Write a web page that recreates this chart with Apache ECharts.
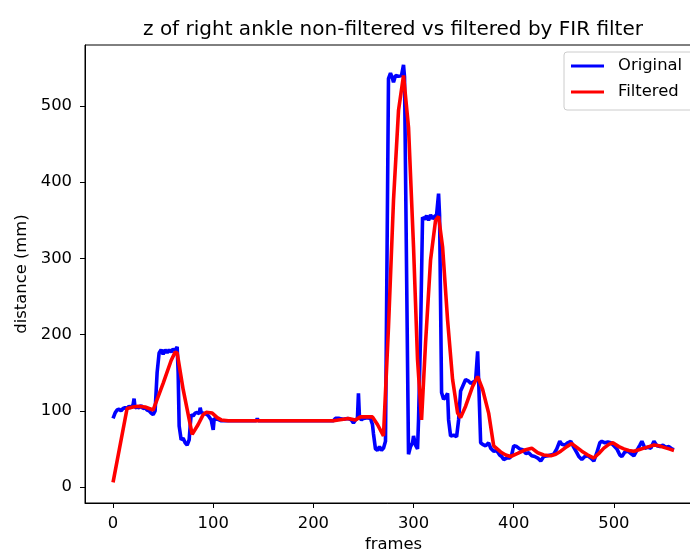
<!DOCTYPE html>
<html>
<head>
<meta charset="utf-8">
<script src="https://cdn.jsdelivr.net/npm/echarts@6/dist/echarts.min.js"></script>
<style>html,body{margin:0;padding:0;background:#fff}#c{width:690px;height:556px}</style>
</head>
<body>
<div id="c"></div>
<script>
const titleText = 'z of right ankle non-filtered vs filtered by FIR filter';
const xTicks = [0, 100, 200, 300, 400, 500];
const yTicks = [0, 100, 200, 300, 400, 500];

const blueX = [0,2,4,6,8,10,12,14,16,18,20,21,22,24,26,28,30,32,34,36,38,40,42,44,46,48,50,52,54,56,58,60,62,64,65,66,68,70,72,74,76,77,78,80,82,84,86,87,88,90,92,94,96,98,100,101,104,108,115,143,144,145,160,190,220,222,226,230,234,238,240,242,244,245,246,248,250,254,257,259,260,262,264,266,268,270,272,275,277,279,280,282,285,288,290,291,292,295,297,299,300,302,304,305,307,309,311,313,315,317,319,321,323,325,326,327,328,330,332,334,335,337,340,343,345,347,349,352,355,357,360,362,364,365,367,369,372,375,377,380,383,386,388,390,393,396,398,400,403,406,409,412,415,418,421,424,427,430,434,437,440,443,446,448,451,454,457,460,463,465,468,471,474,477,480,483,486,488,491,494,497,500,503,506,508,511,514,517,520,523,526,528,531,534,537,540,543,546,549,552,555,558,560];
const blueY = [90,97,101,102,100,103,104,103,106,104,108,116,104,105,104,107,103,104,101,100,97,95,100,150,176,180,174,180,176,180,177,181,179,184,150,80,62,64,58,55,62,80,95,93,97,98,96,104,98,97,96,95,92,88,75,90,89,87,87,87,90,87,87,87,87,90,90,89,90,88,84,88,90,123,92,88,90,91,90,82,70,50,48,53,48,51,60,536,543,536,531,540,539,540,554,538,536,43,53,58,67,55,50,88,200,354,351,356,350,357,352,355,357,385,356,354,124,115,118,123,88,67,68,66,88,126,132,141,139,136,138,140,178,140,58,56,54,58,51,47,48,42,40,36,38,38,42,54,53,50,49,44,45,41,40,38,34,40,41,42,43,50,60,56,55,58,60,52,45,40,36,40,41,38,34,45,58,60,58,59,58,54,50,42,40,46,47,44,41,48,55,60,51,52,51,60,54,53,55,52,53,50,49];

const redX = [0,14,20,25,32,40,50,58,62,64,70,79,85,90,93,99,104,108,115,220,230,235,242,247,259,264,270,275,280,285,290,295,300,304,308,312,317,322,325,329,334,339,344,347,352,359,364,369,375,380,387,392,397,404,412,418,424,430,437,442,447,453,458,463,468,474,480,485,490,495,499,505,510,515,520,525,530,535,540,545,550,555,560];
const redY = [6,103,105,106,105,101,136,166,177,176,128,69,82,95,98,97,91,88,87,87,89,90,88,92,92,82,67,210,376,494,540,472,315,167,88,189,298,350,355,315,219,141,97,91,106,132,145,128,97,54,46,42,40,44,49,51,45,42,41,43,47,53,57,52,47,42,38,44,51,56,58,53,50,48,47,49,51,53,55,54,52,50,48];

const seriesNames = ['Original', 'Filtered'];
const seriesColors = ['#0000ff', '#ff0000'];

const FONT = 'DejaVu Sans';
const chart = echarts.init(document.getElementById('c'), null, {renderer: 'canvas'});
chart.setOption({
  animation: false,
  backgroundColor: '#fff',
  title: {
    text: titleText, left: 393, top: 20, textAlign: 'center', padding: 0,
    textStyle: {fontFamily: FONT, fontSize: 20, fontWeight: 'normal', color: '#000'}
  },
  legend: {
    orient: 'vertical', left: 564, top: 52,
    padding: [5, 14, 9, 7],
    itemWidth: 33, itemHeight: 3, itemGap: 8,
    backgroundColor: 'rgba(255,255,255,0.8)', borderColor: '#cccccc', borderWidth: 1, borderRadius: 3,
    textStyle: {fontFamily: FONT, fontSize: 16.4, color: '#000', lineHeight: 18, padding: [0,0,0,9]},
    data: seriesNames.map(n => ({name: n, icon: 'rect'}))
  },
  grid: {left: 85, top: 45, width: 617, height: 458, show: true, borderColor: '#000', borderWidth: 1,
         containLabel: false, outerBoundsMode: 'none'},
  xAxis: {
    type: 'value', min: -28, max: 588,
    name: 'frames', nameLocation: 'middle', nameGap: 33,
    nameTextStyle: {fontFamily: FONT, fontSize: 16.4, color: '#000'},
    axisLine: {show: true, onZero: false, lineStyle: {color: '#000', width: 1}},
    axisTick: {show: true, length: 5, lineStyle: {color: '#000', width: 1}, customValues: xTicks},
    axisLabel: {fontFamily: FONT, fontSize: 16.4, color: '#000', margin: 13, customValues: xTicks},
    splitLine: {show: false}
  },
  yAxis: {
    type: 'value', min: -21, max: 580,
    name: 'distance (mm)', nameLocation: 'middle', nameGap: 54, nameRotate: 90,
    nameTextStyle: {fontFamily: FONT, fontSize: 16.4, color: '#000'},
    axisLine: {show: true, onZero: false, lineStyle: {color: '#000', width: 1}},
    axisTick: {show: true, length: 5, lineStyle: {color: '#000', width: 1}, customValues: yTicks},
    axisLabel: {fontFamily: FONT, fontSize: 16.4, color: '#000', margin: 13, customValues: yTicks},
    splitLine: {show: false}
  },
  series: [
    {name: seriesNames[0], type: 'line', showSymbol: false, symbol: 'none', color: seriesColors[0],
     lineStyle: {color: seriesColors[0], width: 3.6}, data: blueX.map((x, i) => [x, blueY[i]])},
    {name: seriesNames[1], type: 'line', showSymbol: false, symbol: 'none', color: seriesColors[1],
     lineStyle: {color: seriesColors[1], width: 3.6}, data: redX.map((x, i) => [x, redY[i]])}
  ]
});
</script>
</body>
</html>
